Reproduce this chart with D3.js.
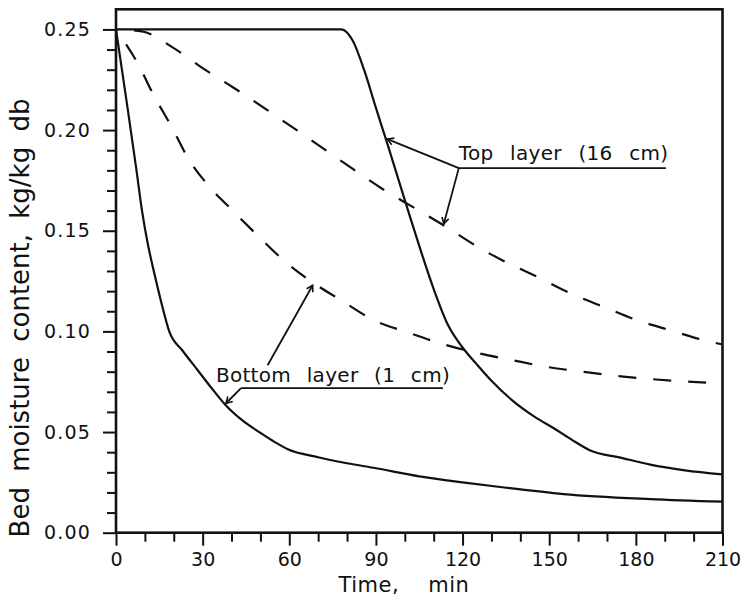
<!DOCTYPE html>
<html>
<head>
<meta charset="utf-8">
<script src="https://cdn.jsdelivr.net/npm/d3@7"></script>
<style>
  html, body { margin: 0; padding: 0; background: #fff; }
  svg { display: block; font-family: "DejaVu Sans", sans-serif; }
</style>
</head>
<body>
<svg id="chart" width="743" height="598"></svg>
<script>
// Bed moisture content during drying, top (16 cm) and bottom (1 cm) layers
// Time in minutes, moisture content in kg/kg dry basis

const topSolidTime = [0, 78, 80, 82, 86, 90, 94, 98, 102, 106, 110, 115, 120, 125, 130, 137, 145, 152, 158, 164, 175, 185, 197, 210];
const topSolidMoisture = [0.25, 0.25, 0.2485, 0.2444, 0.2295, 0.211, 0.193, 0.1745, 0.156, 0.138, 0.121, 0.103, 0.092, 0.0835, 0.0755, 0.066, 0.0575, 0.0515, 0.046, 0.041, 0.0372, 0.0338, 0.031, 0.029];

const topDashedTime = [0, 9, 20, 30, 41, 60, 82, 92, 103, 113, 125, 135, 146, 157.5, 169, 180.6, 192, 203.6, 210];
const topDashedMoisture = [0.25, 0.249, 0.2407, 0.2308, 0.2208, 0.2025, 0.1807, 0.171, 0.1616, 0.1531, 0.1422, 0.1344, 0.127, 0.1188, 0.1121, 0.1055, 0.1005, 0.0956, 0.0935];

const bottomSolidTime = [0, 4, 7, 9, 11, 13, 15.5, 18.5, 23, 28.3, 33, 38, 44, 50.2, 55, 59.5, 70, 80, 90, 105, 120, 133, 155, 185, 210];
const bottomSolidMoisture = [0.25, 0.211, 0.181, 0.160, 0.1435, 0.1305, 0.1155, 0.0997, 0.0905, 0.0807, 0.072, 0.0633, 0.0555, 0.0494, 0.045, 0.0414, 0.0375, 0.0345, 0.032, 0.028, 0.025, 0.0227, 0.0192, 0.0167, 0.0154];

const bottomDashedTime = [0, 7.5, 13, 19.3, 25.1, 32.5, 40.4, 49, 58.3, 66.4, 78, 89.4, 101, 112.5, 125, 137.3, 149.4, 162, 174.8, 187, 199.6, 210];
const bottomDashedMoisture = [0.25, 0.2332, 0.2175, 0.2015, 0.1857, 0.1716, 0.160, 0.1477, 0.135, 0.126, 0.1154, 0.1055, 0.0995, 0.094, 0.0893, 0.0857, 0.0823, 0.0799, 0.0777, 0.0761, 0.0749, 0.0742];

const xMajorTicks = [0, 30, 60, 90, 120, 150, 180, 210];
const xMinorTicks = d3.range(0, 211, 10);
const yMajorTicks = [0, 0.05, 0.10, 0.15, 0.20, 0.25];
const yMinorTicks = d3.range(0, 26).map(i => i / 100);

const xTitle = "Time, min";
const yTitle = "Bed moisture content, kg/kg db";
const topLabel = "Top layer (16 cm)";
const bottomLabel = "Bottom layer (1 cm)";

// label anchors and leader-line ends, in data units [time, moisture]
const topLabelAnchor = [118.7, 0.1849];
const topUnderline = [[118.7, 0.1811], [190.4, 0.1811]];
const topLeaders = [[[118.7, 0.1811], [94.0, 0.1955]], [[118.7, 0.1811], [113.5, 0.1535]]];
const bottomLabelAnchor = [34.6, 0.0749];
const bottomUnderline = [[43.3, 0.0718], [113.2, 0.0718]];
const bottomLeaders = [[[43.3, 0.0718], [38.1, 0.0643]], [[52.5, 0.0832], [68.1, 0.1229]]];

const svg = d3.select("#chart");
const ink = "#111";

const x = d3.scaleLinear().domain([0, 210]).range([116, 722.5]);
const y = d3.scaleLinear().domain([0, 0.26]).range([532.7, 9.3]);

// arrowhead for leader lines
svg.append("defs").append("marker")
  .attr("id", "tip")
  .attr("markerUnits", "userSpaceOnUse")
  .attr("viewBox", "-8 -5 10 10")
  .attr("refX", 0).attr("refY", 0)
  .attr("markerWidth", 10).attr("markerHeight", 10)
  .attr("orient", "auto")
  .append("path")
  .attr("d", "M-6,-3.5 L0,0 L-6,3.5")
  .attr("fill", "none").attr("stroke", ink).attr("stroke-width", 1.6);

// axes: major ticks with labels, minor ticks without
const xAxisMajor = svg.append("g").attr("transform", `translate(0,${y(0)})`)
  .call(d3.axisBottom(x).tickValues(xMajorTicks).tickSize(13).tickSizeOuter(0).tickPadding(7).tickFormat(d3.format("d")));
const xAxisMinor = svg.append("g").attr("transform", `translate(0,${y(0)})`)
  .call(d3.axisBottom(x).tickValues(xMinorTicks.filter(v => v % 30 !== 0)).tickSize(9).tickSizeOuter(0).tickFormat(""));
const yAxisMajor = svg.append("g").attr("transform", `translate(${x(0)},0)`)
  .call(d3.axisLeft(y).tickValues(yMajorTicks).tickSize(13).tickSizeOuter(0).tickPadding(12).tickFormat(d3.format(".2f")));
const yAxisMinor = svg.append("g").attr("transform", `translate(${x(0)},0)`)
  .call(d3.axisLeft(y).tickValues(yMinorTicks.filter(v => Math.round(v * 100) % 5 !== 0)).tickSize(9).tickSizeOuter(0).tickFormat(""));

[xAxisMajor, xAxisMinor, yAxisMajor, yAxisMinor].forEach(g => {
  g.select(".domain").remove();
  g.selectAll("line").attr("stroke", ink).attr("stroke-width", 2);
  g.selectAll("text").attr("fill", ink).attr("font-family", "DejaVu Sans, sans-serif").attr("font-size", 19);
});
yAxisMajor.selectAll("text").attr("letter-spacing", 1.2);

// plot frame
svg.append("rect")
  .attr("x", x(0)).attr("y", y(0.26))
  .attr("width", x(210) - x(0)).attr("height", y(0) - y(0.26))
  .attr("fill", "none").attr("stroke", ink).attr("stroke-width", 2.6);

// curves
const line = d3.line().x(d => x(d[0])).y(d => y(d[1])).curve(d3.curveMonotoneX);
const series = [
  { t: topSolidTime, m: topSolidMoisture, dash: null },
  { t: topDashedTime, m: topDashedMoisture, dash: "18,17" },
  { t: bottomSolidTime, m: bottomSolidMoisture, dash: null },
  { t: bottomDashedTime, m: bottomDashedMoisture, dash: "18,17" }
];
svg.append("g").selectAll("path")
  .data(series)
  .join("path")
  .attr("d", s => line(s.t.map((t, i) => [t, s.m[i]])))
  .attr("fill", "none")
  .attr("stroke", ink)
  .attr("stroke-width", 2.2)
  .attr("stroke-dasharray", s => s.dash)
  .attr("stroke-dashoffset", s => s.dash ? 17 : null);

// annotations
const straight = d3.line().x(d => x(d[0])).y(d => y(d[1]));
const notes = svg.append("g");
[topUnderline, bottomUnderline].forEach(seg => {
  notes.append("path").attr("d", straight(seg))
    .attr("fill", "none").attr("stroke", ink).attr("stroke-width", 1.8);
});
[...topLeaders, ...bottomLeaders].forEach(seg => {
  notes.append("path").attr("d", straight(seg))
    .attr("fill", "none").attr("stroke", ink).attr("stroke-width", 1.8)
    .attr("marker-end", "url(#tip)");
});
notes.append("text")
  .attr("x", x(topLabelAnchor[0])).attr("y", y(topLabelAnchor[1]))
  .attr("font-size", 20).attr("word-spacing", 10).attr("letter-spacing", 0.3)
  .attr("fill", ink).text(topLabel);
notes.append("text")
  .attr("x", x(bottomLabelAnchor[0])).attr("y", y(bottomLabelAnchor[1]))
  .attr("font-size", 20).attr("word-spacing", 9).attr("letter-spacing", 0.3)
  .attr("fill", ink).text(bottomLabel);

// axis titles
svg.append("text")
  .attr("x", 404).attr("y", 592)
  .attr("text-anchor", "middle")
  .attr("font-size", 21).attr("word-spacing", 22).attr("letter-spacing", 0.5)
  .attr("fill", ink).text(xTitle);
svg.append("text")
  .attr("transform", "translate(29,318) rotate(-90)")
  .attr("text-anchor", "middle")
  .attr("font-size", 26).attr("word-spacing", 7)
  .attr("fill", ink).text(yTitle);
</script>
</body>
</html>
